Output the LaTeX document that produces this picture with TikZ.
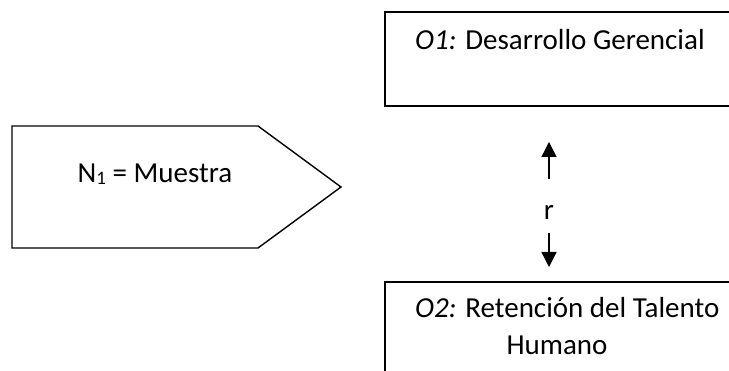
\documentclass[tikz,border=0pt]{standalone}
\usepackage{fontspec}
\setmainfont{Carlito}
\usetikzlibrary{arrows.meta}
\begin{document}
\begin{tikzpicture}[x=1pt,y=-1pt,
  shapeline/.style={draw=black, line width=1.4pt},
  boxnode/.style={shapeline, anchor=north west, inner sep=0pt, outer sep=0pt},
  lbl/.style={font=\fontsize{29}{37}\selectfont, inner sep=0pt},
  arr/.style={line width=1.4pt, -{Triangle[width=15pt,length=15pt]}}]
\useasboundingbox (0,0) rectangle (729,371);
\fill[white] (0,0) rectangle (729,371);
\clip (0,0) rectangle (729,371);
% pentagon (N1)
\coordinate (pA) at (12,126);
\coordinate (pB) at (258,126);
\coordinate (pC) at (341,187);
\coordinate (pD) at (258,248);
\coordinate (pE) at (12,248);
\draw[shapeline, line join=miter] (pA) -- (pB) -- (pC) -- (pD) -- (pE) -- cycle;
\node[lbl, anchor=base] (n1) at (155,183) {N\raisebox{-2pt}{\fontsize{19}{19}\selectfont 1} = Muestra};
% O1 box
\node[boxnode, minimum width=380pt, minimum height=94pt] (o1) at (385,12) {};
\node[lbl, anchor=base west] (o1t) at (415,50) {\textit{O1:} Desarrollo Gerencial};
% O2 box
\node[boxnode, minimum width=380pt, minimum height=140pt] (o2) at (385,282) {};
\node[lbl, anchor=base west] (o2t) at (415,318) {\textit{O2:} Retención del Talento};
\node[lbl, anchor=base] (o2u) at (557,355) {Humano};
% r arrows
\node[lbl, anchor=base] (r) at (549,220) {r};
\coordinate (uptip) at (549,142);
\coordinate (dntip) at (549,267);
\draw[arr] (r.north) ++(0,-27) -- (uptip);
\draw[arr] (r.south) ++(0,13) -- (dntip);
\end{tikzpicture}
\end{document}
